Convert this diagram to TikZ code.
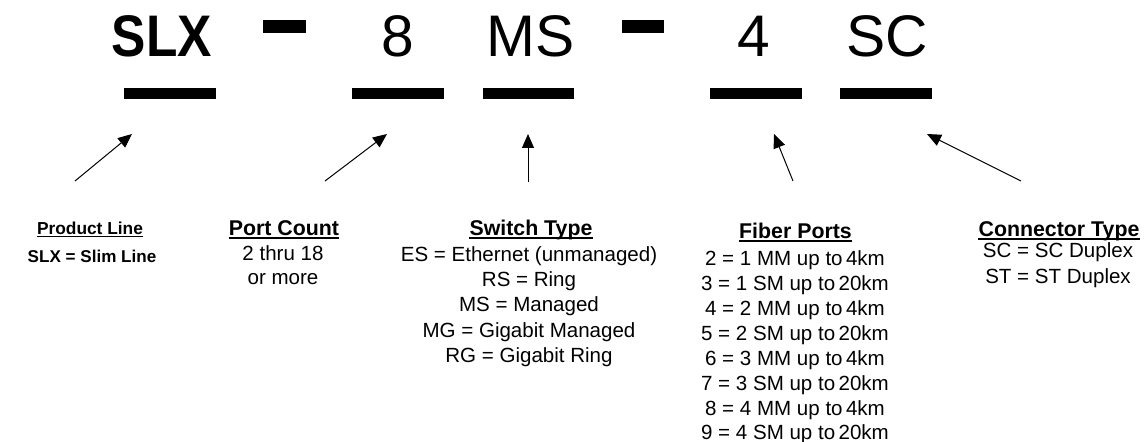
\documentclass[tikz,border=0pt]{standalone}
\usepackage{fontspec}
\setmainfont{Liberation Sans}
\usepackage{graphicx}
\usetikzlibrary{arrows.meta,calc}

\begin{document}
\begin{tikzpicture}[x=0.75pt,y=0.75pt,yscale=-1,xscale=1,
  bigtxt/.style={font=\fontsize{44}{44}\selectfont,inner sep=0pt,anchor=base},
  hdr/.style={font=\fontsize{16}{16}\selectfont\bfseries,inner sep=0pt,anchor=base},
  smallhdr/.style={font=\fontsize{13}{13}\selectfont\bfseries,inner sep=0pt,anchor=base},
  body/.style={font=\fontsize{15.4}{15.4}\selectfont,inner sep=0pt,anchor=base},
  smallbody/.style={font=\fontsize{12.8}{12.8}\selectfont\bfseries,inner sep=0pt,anchor=base},
  uline/.style={line width=1.1pt},
  callout/.style={-{Triangle[length=10.5pt,width=9pt]},line width=0.75pt}]
\useasboundingbox (0,0) rectangle (1148,442);

% part number
\node (slx) at (162,57) [bigtxt] {\scalebox{0.877}[1]{\bfseries SLX}};
\node (cnt) at (397.5,57) [bigtxt] {8};
\node (typ) at (530.5,57) [bigtxt] {MS};
\node (fib) at (753.5,57) [bigtxt] {4};
\node (con) at (887.5,57) [bigtxt] {SC};
% dashes
\fill (263,20) rectangle (306,33);
\fill (622,20) rectangle (664,33);
% blanks
\fill (124,88) rectangle (216,99);
\fill (352,88) rectangle (444,99);
\fill (483,88) rectangle (574,99);
\fill (710,88) rectangle (802,99);
\fill (840,88) rectangle (932,99);

% arrows
\coordinate (a1s) at (75,181);  \coordinate (a1e) at (132,134);
\coordinate (a2s) at (325,181); \coordinate (a2e) at (387,134);
\coordinate (a3s) at (528,182); \coordinate (a3e) at (528,134);
\coordinate (a4s) at (793,181); \coordinate (a4e) at (774,134);
\coordinate (a5s) at (1021,181); \coordinate (a5e) at (927,134);
\draw [callout] (a1s) -- (a1e);
\draw [callout] (a2s) -- (a2e);
\draw [callout] (a3s) -- (a3e);
\draw [callout] (a4s) -- (a4e);
\draw [callout] (a5s) -- (a5e);

% Product Line
\node (plh) at (90,234) [smallhdr] {Product Line};
\draw [uline] ($(plh.base west)+(0,2.5)$) -- ($(plh.base east)+(0,2.5)$);
\node (pl1) at (92,262) [smallbody] {SLX = Slim Line};

% Port Count
\node (pch) at (284,235.5) [hdr] {Port Count};
\draw [uline] ($(pch.base west)+(0,2.5)$) -- ($(pch.base east)+(0,2.5)$);
\node (pc1) at (283,260) [body] {2 thru 18};
\node (pc2) at (283,284) [body] {or more};

% Switch Type
\node (sth) at (531,235.5) [hdr] {Switch Type};
\draw [uline] ($(sth.base west)+(0,2.5)$) -- ($(sth.base east)+(0,2.5)$);
\node (st1) at (529,261) [body] {ES = Ethernet (unmanaged)};
\node (st2) at (529,286.3) [body] {RS = Ring};
\node (st3) at (529,311.6) [body] {MS = Managed};
\node (st4) at (529,337) [body] {MG = Gigabit Managed};
\node (st5) at (529,362.3) [body] {RG = Gigabit Ring};

% Fiber Ports
\node (fph) at (795.5,238.5) [hdr] {Fiber Ports};
\draw [uline] ($(fph.base west)+(0,2.5)$) -- ($(fph.base east)+(0,2.5)$);
\node (fp1) at (795,265) [body] {2 = 1 MM up to\,4km};
\node (fp2) at (795,290) [body] {3 = 1 SM up to\,20km};
\node (fp3) at (795,315) [body] {4 = 2 MM up to\,4km};
\node (fp4) at (795,340) [body] {5 = 2 SM up to\,20km};
\node (fp5) at (795,365) [body] {6 = 3 MM up to\,4km};
\node (fp6) at (795,390) [body] {7 = 3 SM up to\,20km};
\node (fp7) at (795,415) [body] {8 = 4 MM up to\,4km};
\node (fp8) at (795,439) [body] {9 = 4 SM up to\,20km};

% Connector Type
\node (cth) at (1059,236.5) [hdr] {Connector Type};
\draw [uline] ($(cth.base west)+(0,2.5)$) -- ($(cth.base east)+(0,2.5)$);
\node (ct1) at (1058,257) [body] {SC = SC Duplex};
\node (ct2) at (1058,283) [body] {ST = ST Duplex};

\end{tikzpicture}
\end{document}
